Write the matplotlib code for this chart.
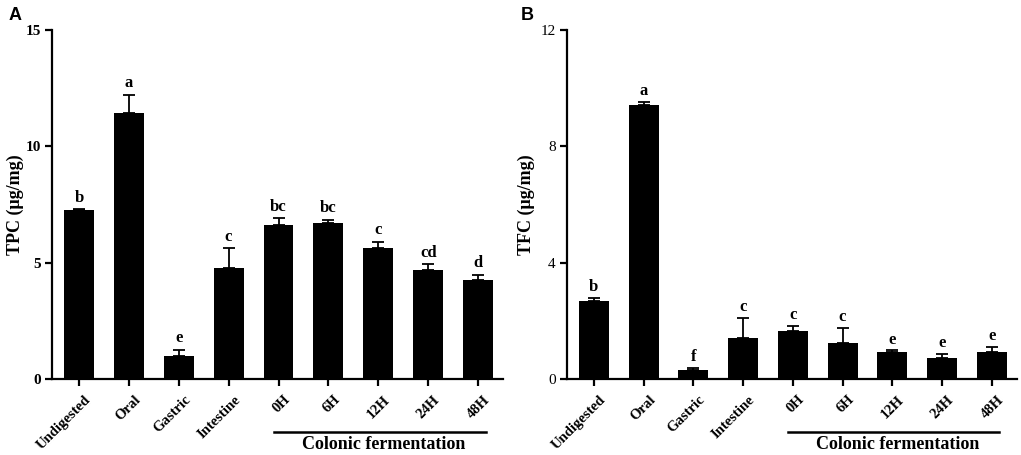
import matplotlib.pyplot as plt
import numpy as np
from matplotlib.transforms import blended_transform_factory, ScaledTranslation

# Dane
kategorie = ['Undigested', 'Oral', 'Gastric', 'Intestine', '0H', '6H', '12H', '24H', '48H']

tpc = [7.26, 11.44, 0.99, 4.76, 6.60, 6.70, 5.62, 4.67, 4.27]
tpc_err = [0.03, 0.76, 0.26, 0.86, 0.30, 0.13, 0.28, 0.26, 0.20]
tpc_litery = ['b', 'a', 'e', 'c', 'bc', 'bc', 'c', 'cd', 'd']
tpc_ticks = [0, 5, 10, 15]

tfc = [2.69, 9.41, 0.31, 1.42, 1.66, 1.22, 0.94, 0.73, 0.94]
tfc_err = [0.10, 0.10, 0.08, 0.69, 0.16, 0.54, 0.04, 0.12, 0.17]
tfc_litery = ['b', 'a', 'f', 'c', 'c', 'c', 'e', 'e', 'e']
tfc_ticks = [0, 4, 8, 12]

serif = 'Liberation Serif'
sans = 'Liberation Sans'

fig = plt.figure(figsize=(10.21, 4.55), dpi=100)
ax1 = fig.add_axes([0.0509, 0.167, 0.4418, 0.768])
ax2 = fig.add_axes([0.5553, 0.167, 0.4405, 0.768])


def rysuj(ax, wartosci, bledy, litery, ylabel, yticks, bold_y, label_x, offset):
    x = np.arange(len(kategorie))
    ax.bar(x, wartosci, width=0.6, color='black', zorder=2)
    ax.errorbar(x, wartosci, yerr=[np.zeros(len(bledy)), bledy], fmt='none',
                ecolor='black', elinewidth=1.3, capsize=4, capthick=1.3, zorder=1)
    for xi, w, b, l in zip(x, wartosci, bledy, litery):
        ax.text(xi, w + b + offset, l, ha='center', va='bottom',
                fontfamily=serif, fontweight='bold', fontsize=12)

    ax.set_xlim(-0.54, 8.5)
    ax.set_ylim(0, yticks[-1])
    ax.set_yticks(yticks)
    ax.set_yticklabels([str(t) for t in yticks], fontfamily=serif, fontsize=11,
                       fontweight='bold' if bold_y else 'normal')
    ax.set_xticks(x)
    ax.set_xticklabels([])

    # etykiety osi x rysowane recznie, przesuniete jak w oryginale
    tr = blended_transform_factory(ax.transData, ax.transAxes)
    przesun = tr + ScaledTranslation(0.05, -0.14, fig.dpi_scale_trans)
    for xi, k in zip(x, kategorie):
        ax.text(xi, 0, k, transform=przesun, rotation=45, ha='right', va='top',
                rotation_mode='anchor', fontfamily=serif, fontweight='bold',
                fontsize=10.5)

    ax.spines['top'].set_visible(False)
    ax.spines['right'].set_visible(False)
    ax.spines['left'].set_linewidth(1.6)
    ax.spines['bottom'].set_linewidth(1.6)
    ax.tick_params(axis='both', direction='out', length=5, width=1.6, pad=3)

    ax.set_ylabel(ylabel, fontfamily=serif, fontweight='bold', fontsize=13)
    ax.yaxis.set_label_coords(label_x, 0.5)

    # linia i podpis fermentacji w jelicie grubym
    ax.plot([3.9, 8.15], [-0.152, -0.152], color='black', lw=1.8,
            transform=tr, clip_on=False)
    ax.text(6.1, -0.188, 'Colonic fermentation', transform=tr, ha='center', va='center',
            fontfamily=serif, fontweight='bold', fontsize=13)


rysuj(ax1, tpc, tpc_err, tpc_litery, 'TPC (μg/mg)', tpc_ticks, True, -0.062, 0.15)
rysuj(ax2, tfc, tfc_err, tfc_litery, 'TFC (μg/mg)', tfc_ticks, False, -0.071, 0.1)

fig.text(0.008, 0.965, 'A', fontfamily=sans, fontweight='bold', fontsize=13, va='center')
fig.text(0.51, 0.965, 'B', fontfamily=sans, fontweight='bold', fontsize=13, va='center')

plt.savefig('out.png', dpi=100)
